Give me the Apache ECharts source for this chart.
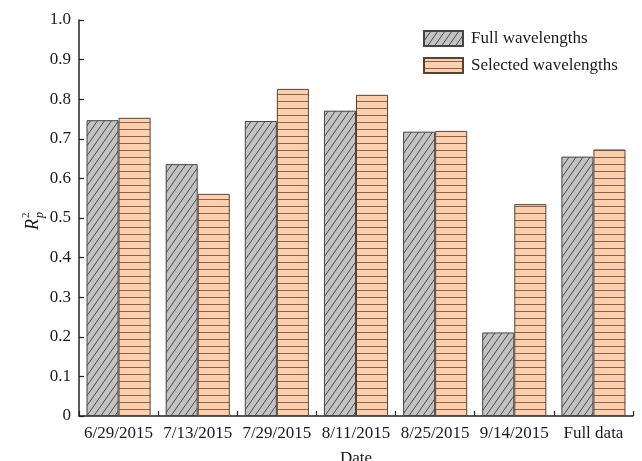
<!DOCTYPE html>
<html>
<head>
<meta charset="utf-8">
<script src="https://cdn.jsdelivr.net/npm/echarts@6/dist/echarts.min.js"></script>
<style>
  html, body { margin: 0; padding: 0; background: #ffffff; }
  #chart { width: 642px; height: 461px; }
</style>
</head>
<body>
<div id="chart"></div>
<script>
// Sampling dates and the pooled set
const categories = ['6/29/2015', '7/13/2015', '7/29/2015', '8/11/2015', '8/25/2015', '9/14/2015', 'Full data'];
// Rp^2 for models built on all wavelengths vs. selected wavelengths
const fullWavelengths = [0.747, 0.636, 0.745, 0.771, 0.718, 0.211, 0.655];
const selectedWavelengths = [0.753, 0.561, 0.826, 0.811, 0.720, 0.535, 0.673];
const yTicks = [0, 0.1, 0.2, 0.3, 0.4, 0.5, 0.6, 0.7, 0.8, 0.9, 1.0];

const SERIF = '"Liberation Serif", "DejaVu Serif", serif';

// Diagonal hatch tile ("/" lines) on grey
function diagonalTile() {
  const w = 7, h = 10;
  const c = document.createElement('canvas');
  c.width = w; c.height = h;
  const g = c.getContext('2d');
  g.fillStyle = '#c3c3c3';
  g.fillRect(0, 0, w, h);
  g.strokeStyle = '#4a4a4a';
  g.lineWidth = 1;
  [-w, 0, w].forEach(function (dx) {
    g.beginPath();
    g.moveTo(dx, h);
    g.lineTo(dx + w, 0);
    g.stroke();
  });
  return c;
}

// Horizontal line tile on pale orange
function horizontalTile() {
  const w = 8, h = 7;
  const c = document.createElement('canvas');
  c.width = w; c.height = h;
  const g = c.getContext('2d');
  g.fillStyle = '#fcd0ad';
  g.fillRect(0, 0, w, h);
  g.fillStyle = '#8a6150';
  g.fillRect(0, 3, w, 1);
  return c;
}

const chart = echarts.init(document.getElementById('chart'), null, { renderer: 'canvas' });

const axisText = { fontFamily: SERIF, fontSize: 17, color: '#1a1a1a' };

chart.setOption({
  backgroundColor: '#ffffff',
  animation: false,
  grid: { left: 79, right: 9, top: 20, bottom: 45, containLabel: false, outerBoundsMode: 'none' },
  legend: {
    orient: 'vertical',
    left: 423,
    top: 30,
    padding: 0,
    itemWidth: 39,
    itemHeight: 15,
    itemGap: 10,
    icon: 'rect',
    textStyle: { fontFamily: SERIF, fontSize: 17, color: '#1a1a1a', padding: [0, 0, 0, 3] },
    data: ['Full wavelengths', 'Selected wavelengths']
  },
  xAxis: {
    type: 'category',
    data: categories,
    name: 'Date',
    nameLocation: 'middle',
    nameGap: 34,
    nameTextStyle: axisText,
    axisLine: { lineStyle: { color: '#222', width: 1.5 } },
    axisTick: { show: true, inside: true, length: 5, alignWithLabel: false, interval: 0, lineStyle: { color: '#222', width: 1.2 } },
    axisLabel: Object.assign({ margin: 9, interval: 0, hideOverlap: false }, axisText),
    splitLine: { show: false }
  },
  yAxis: {
    type: 'value',
    min: 0,
    max: 1,
    interval: 0.1,
    axisLine: { show: true, lineStyle: { color: '#222', width: 1.5 } },
    axisTick: { show: true, inside: true, length: 5, lineStyle: { color: '#222', width: 1.2 } },
    axisLabel: Object.assign({
      margin: 8,
      formatter: function (v) {
        const t = yTicks.find(function (x) { return Math.abs(x - v) < 1e-9; });
        if (t === undefined) return '';
        return t === 0 ? '0' : t.toFixed(1);
      }
    }, axisText),
    splitLine: { show: false }
  },
  graphic: [{
    type: 'group',
    left: 21,
    top: 212,
    rotation: Math.PI / 2,
    children: [
      { type: 'text', x: 0, y: 0, style: { text: 'R', fontFamily: SERIF, fontStyle: 'italic', fontSize: 18, fill: '#1a1a1a', textVerticalAlign: 'bottom' } },
      { type: 'text', x: 12, y: 4, style: { text: 'p', fontFamily: SERIF, fontStyle: 'italic', fontSize: 12, fill: '#1a1a1a', textVerticalAlign: 'bottom' } },
      { type: 'text', x: 12, y: -10, style: { text: '2', fontFamily: SERIF, fontSize: 11, fill: '#1a1a1a', textVerticalAlign: 'bottom' } }
    ]
  }],
  series: [
    {
      name: 'Full wavelengths',
      type: 'bar',
      data: fullWavelengths,
      barWidth: '40.5%',
      barGap: '0%',
      itemStyle: {
        color: { image: diagonalTile(), repeat: 'repeat' },
        borderColor: '#444',
        borderWidth: 1
      }
    },
    {
      name: 'Selected wavelengths',
      type: 'bar',
      data: selectedWavelengths,
      barWidth: '40.5%',
      barGap: '0%',
      itemStyle: {
        color: { image: horizontalTile(), repeat: 'repeat' },
        borderColor: '#5a4035',
        borderWidth: 1
      }
    }
  ]
});
</script>
</body>
</html>
